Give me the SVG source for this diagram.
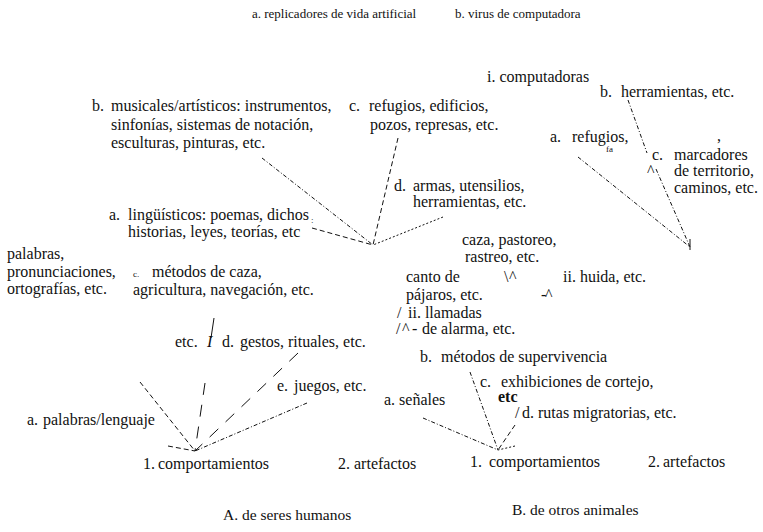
<svg xmlns="http://www.w3.org/2000/svg" width="763" height="532" viewBox="0 0 763 532">
<style>
text{font-family:"Liberation Serif","Times New Roman",serif;font-size:16px;fill:#111}
.top{font-size:13px}
.sm{font-size:9px}
.cap{font-size:15.5px}
.c line,.c path{stroke:#111;fill:none;stroke-width:1}
.dd{stroke-dasharray:4 2 1 2}
.da{stroke-dasharray:5 3}
.lg{stroke-dasharray:12 10}
.dt{stroke-dasharray:2 2}
</style>
<rect width="763" height="532" fill="#fff"/>
<g id="top">
<text class="top" x="252" y="18">a. replicadores de vida artificial</text>
<text class="top" x="455" y="18">b. virus de computadora</text>
</g>
<g id="A-art-b"><text x="92" y="111">b.</text><text x="111" y="111">musicales/artísticos: instrumentos,</text><text x="111" y="130">sinfonías, sistemas de notación,</text><text x="111" y="148">esculturas, pinturas, etc.</text></g>
<g id="A-art-c"><text x="349" y="111">c.</text><text x="369" y="111">refugios, edificios,</text><text x="370" y="130">pozos, represas, etc.</text></g>
<g id="A-art-d"><text x="394" y="191">d.</text><text x="413" y="191">armas, utensilios,</text><text x="413" y="207">herramientas, etc.</text></g>
<g id="A-art-a"><text x="109" y="220">a.</text><text x="128" y="220">lingüísticos: poemas, dichos</text><text class="sm" x="311" y="223">:</text><text x="128" y="237">historias, leyes, teorías, etc</text></g>
<g id="A-beh-b"><text x="7" y="259">palabras,</text><text x="7" y="277">pronunciaciones,</text><text x="7" y="294">ortografías, etc.</text></g>
<g id="A-beh-c"><text class="sm" x="133" y="277">c.</text><text x="152" y="277">métodos de caza,</text><text x="133" y="295">agricultura, navegación, etc.</text></g>
<g id="A-beh-d"><text x="175" y="347">etc.</text><text x="207" y="347" font-style="italic">I</text><text x="222" y="347">d.</text><text x="240" y="347">gestos, rituales, etc.</text></g>
<g id="A-beh-e"><text x="277" y="391">e.</text><text x="294" y="391">juegos, etc.</text></g>
<g id="A-beh-a"><text x="27" y="425">a.</text><text x="43" y="425">palabras/lenguaje</text></g>
<g id="A-beh"><text x="143" y="469">1.</text><text x="158" y="469">comportamientos</text></g>
<g id="A-art"><text x="338" y="469">2.</text><text x="354" y="469">artefactos</text></g>
<g id="A"><text class="cap" x="223" y="520">A. de seres humanos</text></g>

<g id="B-art-i"><text x="487" y="82">i. computadoras</text></g>
<g id="B-art-b"><text x="600" y="97">b.</text><text x="621" y="97">herramientas, etc.</text></g>
<g id="B-art-a"><text x="550" y="142">a.</text><text x="572" y="142">refugios,</text><text class="sm" x="606" y="152">fa</text><text x="717" y="141">,</text></g>
<g id="B-art-c"><text x="652" y="160">c.</text><text x="674" y="160">marcadores</text><text x="674" y="176">de territorio,</text><text x="674" y="193">caminos, etc.</text></g>
<g id="B-beh-b-i"><text x="462" y="245">caza, pastoreo,</text><text x="465" y="262">rastreo, etc.</text><text x="504" y="282">\</text><text x="509" y="282">^</text><text x="541" y="300">-</text><text x="545" y="300">^</text></g>
<g id="B-beh-b-ii"><text x="563" y="282">ii. huida, etc.</text></g>
<g id="B-beh-a-i"><text x="406" y="282">canto de</text><text x="406" y="300">pájaros, etc.</text></g>
<g id="B-beh-a-ii"><text x="397" y="318">/</text><text x="408" y="318">ii. llamadas</text><text x="396" y="334">/</text><text x="402" y="334">^</text><text x="412" y="334">-</text><text x="422" y="334">de alarma, etc.</text></g>
<g id="B-beh-b"><text x="420" y="362">b.</text><text x="441" y="362">métodos de supervivencia</text></g>
<g id="B-beh-c"><text x="480" y="387">c.</text><text x="501" y="387">exhibiciones de cortejo,</text><text x="498" y="402" font-size="12" font-weight="bold">etc</text></g>
<g id="B-beh-a"><text x="384" y="405">a. señales</text></g>
<g id="B-beh-d"><text x="515" y="418">/</text><text x="522" y="418">d.</text><text x="538" y="418">rutas migratorias, etc.</text></g>
<g id="B-beh"><text x="470" y="467">1.</text><text x="489" y="467">comportamientos</text></g>
<g id="B-art"><text x="648" y="467">2.</text><text x="663" y="467">artefactos</text></g>
<g id="B"><text class="cap" x="512" y="515">B. de otros animales</text></g>

<g id="connectors" class="c">
<line class="dd" x1="262" y1="158" x2="373" y2="245"/>
<line class="da" x1="312" y1="228" x2="373" y2="245"/>
<line class="da" x1="398" y1="138" x2="373" y2="245"/>
<line class="dt" x1="443" y1="217" x2="373" y2="245"/>
<line class="dd" x1="578" y1="157" x2="690" y2="247"/>
<line class="dd" x1="628" y1="100" x2="647" y2="153"/>
<line class="dd" x1="656" y1="169" x2="690" y2="247"/>
<text x="647" y="176" font-size="12" stroke="none" fill="#111">^</text>
<line x1="690" y1="239" x2="690" y2="250" stroke-width="1.6"/>
<line class="da" x1="140" y1="382" x2="195" y2="451"/>
<line class="lg" x1="205" y1="383" x2="195" y2="451"/>
<line x1="214" y1="318" x2="211" y2="338"/>
<line class="lg" x1="298" y1="353" x2="195" y2="451"/>
<line class="dd" x1="307" y1="403" x2="195" y2="451"/>
<line class="da" x1="168" y1="446" x2="195" y2="451"/>
<line class="dd" x1="470" y1="372" x2="498" y2="450"/>
<line class="dd" x1="423" y1="418" x2="498" y2="450"/>
<line class="da" x1="515" y1="425" x2="498" y2="450"/>
<line class="dt" x1="515" y1="446" x2="498" y2="450"/>
</g>
</svg>
